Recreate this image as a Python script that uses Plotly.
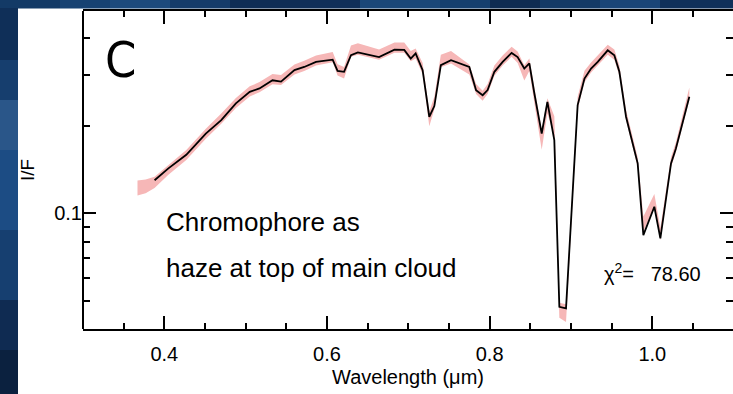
import math
import plotly.graph_objects as go

# ---------------- data ----------------
model_wl = [0.388, 0.405, 0.427, 0.451, 0.470, 0.488, 0.505, 0.517, 0.533, 0.5435,
            0.560, 0.572, 0.5865, 0.607, 0.613, 0.621, 0.6295, 0.638, 0.664, 0.683,
            0.695, 0.703, 0.709, 0.7176, 0.7258, 0.732, 0.740, 0.7525, 0.775, 0.7833,
            0.7914, 0.7975, 0.8058, 0.816, 0.827, 0.8344, 0.8426, 0.8488, 0.855, 0.864,
            0.871, 0.8795, 0.8857, 0.8939, 0.9082, 0.9166, 0.9247, 0.9329, 0.9452, 0.9533,
            0.9595, 0.9677, 0.9738, 0.982, 0.989, 1.0025, 1.0099, 1.023, 1.029, 1.0455]
model_if = [0.130, 0.1428, 0.159, 0.188, 0.2094, 0.239, 0.262, 0.269, 0.287, 0.284,
            0.311, 0.319, 0.332, 0.338, 0.309, 0.307, 0.350, 0.358, 0.345, 0.366,
            0.365, 0.341, 0.355, 0.311, 0.215, 0.234, 0.3235, 0.3365, 0.319, 0.2655,
            0.255, 0.2655, 0.307, 0.332, 0.3565, 0.345, 0.315, 0.328, 0.2585, 0.188,
            0.242, 0.1786, 0.0477, 0.0471, 0.2357, 0.291, 0.315, 0.332, 0.364, 0.350,
            0.307, 0.215, 0.1834, 0.1486, 0.0842, 0.1054, 0.082, 0.1486, 0.1673, 0.2518]

obs_wl = [0.367, 0.377, 0.388, 0.405, 0.427, 0.451, 0.470, 0.488, 0.505, 0.517,
          0.533, 0.5435, 0.560, 0.572, 0.5865, 0.607, 0.613, 0.621, 0.6295, 0.638,
          0.664, 0.683, 0.695, 0.703, 0.709, 0.7176, 0.7258, 0.732, 0.740, 0.7525,
          0.775, 0.7833, 0.7914, 0.7975, 0.8058, 0.816, 0.827, 0.8344, 0.8426, 0.8488,
          0.855, 0.864, 0.871, 0.8795, 0.8857, 0.8939, 0.9082, 0.9166, 0.9247, 0.9329,
          0.9452, 0.9533, 0.9595, 0.9677, 0.9738, 0.982, 0.989, 1.0025, 1.0099, 1.023,
          1.029, 1.0455]
obs_if = [0.1225, 0.124, 0.128, 0.1415, 0.159, 0.188, 0.212, 0.240, 0.263, 0.272,
          0.290, 0.288, 0.313, 0.322, 0.336, 0.345, 0.312, 0.305, 0.362, 0.368,
          0.352, 0.372, 0.372, 0.348, 0.355, 0.315, 0.212, 0.240, 0.335, 0.345,
          0.313, 0.268, 0.254, 0.268, 0.310, 0.336, 0.360, 0.345, 0.305, 0.325,
          0.255, 0.180, 0.235, 0.200, 0.0465, 0.0455, 0.240, 0.296, 0.318, 0.336,
          0.366, 0.352, 0.310, 0.218, 0.186, 0.150, 0.092, 0.111, 0.085, 0.150,
          0.169, 0.258]
obs_err = [0.060, 0.055, 0.045, 0.040, 0.040, 0.040, 0.040, 0.040, 0.040, 0.040,
           0.040, 0.040, 0.040, 0.040, 0.040, 0.040, 0.045, 0.045, 0.045, 0.045,
           0.040, 0.040, 0.040, 0.040, 0.040, 0.045, 0.060, 0.050, 0.050, 0.050,
           0.040, 0.040, 0.040, 0.040, 0.040, 0.040, 0.040, 0.045, 0.060, 0.050,
           0.050, 0.080, 0.060, 0.080, 0.060, 0.070, 0.050, 0.045, 0.040, 0.040,
           0.040, 0.040, 0.040, 0.040, 0.040, 0.040, 0.060, 0.050, 0.050, 0.040,
           0.040, 0.050]

x_ticks = [0.4, 0.6, 0.8, 1.0]
x_ticklabels = ["0.4", "0.6", "0.8", "1.0"]
y_ticks = [0.1]
y_ticklabels = ["0.1"]
y_minor = [0.05, 0.06, 0.07, 0.08, 0.09, 0.2, 0.3, 0.4]

panel_label = "C"
caption = ["Chromophore as", "haze at top of main cloud"]
chi2_text = "χ<sup>2</sup>=   78.60"

# ---------------- figure ----------------
upper = [v * (1 + e) for v, e in zip(obs_if, obs_err)]
lower = [v * (1 - e) for v, e in zip(obs_if, obs_err)]

fig = go.Figure()
fig.add_trace(go.Scatter(
    x=obs_wl + obs_wl[::-1], y=upper + lower[::-1],
    fill="toself", fillcolor="#f6b7b7", line=dict(width=0, color="#f6b7b7"),
    mode="lines", hoverinfo="skip", showlegend=False))
fig.add_trace(go.Scatter(
    x=model_wl, y=model_if, mode="lines",
    line=dict(color="black", width=1.8), showlegend=False))

FONT = "Liberation Sans, Arial, Helvetica, sans-serif"
W, H = 733, 394
ML, MR, MT, MB = 83, 0, 11, 65
pw, ph = W - ML - MR, H - MT - MB


def px_x(p):
    return (p - ML) / pw


def px_y(p):
    return (H - MB - p) / ph


shapes = []
# white page area
shapes.append(dict(type="rect", xref="paper", yref="paper", x0=px_x(18), x1=px_x(740),
                   y0=px_y(8), y1=px_y(400), fillcolor="white", line=dict(width=0), layer="below"))
# top blue strip bands
top_bands = [(0, 60, "#133a66"), (60, 110, "#174272"), (110, 170, "#1d4a7c"), (170, 230, "#163c6a"),
             (230, 300, "#0f2d55"), (300, 360, "#112f59"), (360, 440, "#1b4778"), (440, 490, "#163f6e"),
             (490, 540, "#0f2c52"), (540, 600, "#143a66"), (600, 660, "#1a4577"), (660, 740, "#10305a")]
for a, b, c in top_bands:
    shapes.append(dict(type="rect", xref="paper", yref="paper", x0=px_x(a), x1=px_x(b),
                       y0=px_y(8.5), y1=px_y(-2), fillcolor=c, line=dict(width=0), layer="below"))
left_bands = [(8, 60, "#0f2f58"), (60, 100, "#163e6e"), (100, 150, "#2a5689"), (150, 230, "#1c4c84"),
              (230, 300, "#163f70"), (300, 350, "#0f2b52"), (350, 400, "#0b213f")]
for a, b, c in left_bands:
    shapes.append(dict(type="rect", xref="paper", yref="paper", x0=px_x(-2), x1=px_x(18),
                       y0=px_y(b), y1=px_y(a), fillcolor=c, line=dict(width=0), layer="below"))
# left axis line
shapes.append(dict(type="line", xref="paper", yref="paper", x0=0, x1=0, y0=0, y1=1,
                   line=dict(color="black", width=2)))

annotations = [
    dict(text=panel_label, x=px_x(103), y=px_y(60), xref="paper", yref="paper",
         xanchor="left", yanchor="middle", showarrow=False,
         font=dict(family="Liberation Sans Narrow, DejaVu Sans Condensed, Liberation Sans", size=50, color="black")),
    dict(text=caption[0], x=px_x(164), y=px_y(222), xref="paper", yref="paper",
         xanchor="left", yanchor="middle", showarrow=False, font=dict(family=FONT, size=26, color="black")),
    dict(text=caption[1], x=px_x(164), y=px_y(268), xref="paper", yref="paper",
         xanchor="left", yanchor="middle", showarrow=False, font=dict(family=FONT, size=26, color="black")),
    dict(text=chi2_text, x=px_x(602), y=px_y(272), xref="paper", yref="paper",
         xanchor="left", yanchor="middle", showarrow=False, font=dict(family=FONT, size=20, color="black")),
]

fig.update_layout(
    width=W, height=H,
    margin=dict(l=ML, r=MR, t=MT, b=MB, pad=0),
    paper_bgcolor="#143a66", plot_bgcolor="white",
    font=dict(family=FONT, color="black"),
    shapes=shapes, annotations=annotations,
    xaxis=dict(range=[0.3, 0.3 + pw / 813.3], tickvals=x_ticks, ticktext=x_ticklabels,
               ticks="inside", ticklen=13, tickwidth=2, tickcolor="black",
               showline=True, linewidth=2, linecolor="black", mirror="ticks",
               showgrid=False, zeroline=False, ticklabelstandoff=6,
               minor=dict(dtick=0.05, tick0=0.3, ticks="inside", ticklen=6, tickwidth=2,
                          tickcolor="black", showgrid=False),
               tickfont=dict(size=20, family=FONT),
               title=dict(text="Wavelength (μm)", font=dict(size=20, family=FONT), standoff=6)),
    yaxis=dict(type="log", range=[math.log10(0.04), math.log10(0.497)],
               tickvals=y_ticks, ticktext=y_ticklabels,
               ticks="inside", ticklen=13, tickwidth=2, tickcolor="black",
               showline=False, mirror="ticks",
               showgrid=False, zeroline=False,
               minor=dict(tickvals=y_minor, ticks="inside", ticklen=7, tickwidth=2,
                          tickcolor="black", showgrid=False),
               tickfont=dict(size=20, family=FONT),
               title=dict(text="I/F", font=dict(size=19, family=FONT), standoff=14)),
)

fig.write_html("out.html", config={"displayModeBar": False},
               post_script="document.body.style.margin='0px';document.body.style.overflow='hidden';")
